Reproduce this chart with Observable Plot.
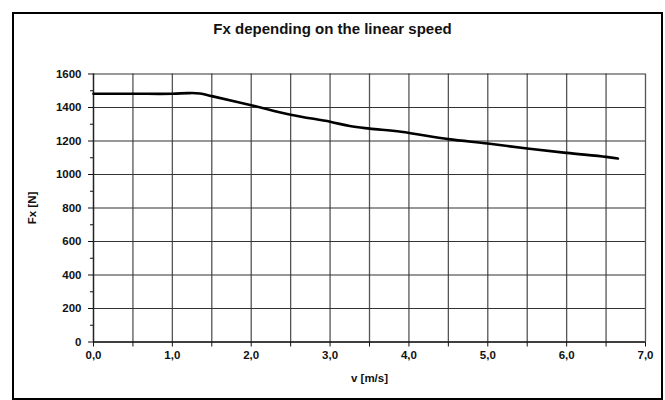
<!DOCTYPE html>
<html>
<head>
<meta charset="utf-8">
<script src="https://cdn.jsdelivr.net/npm/d3@7"></script>
<script src="https://cdn.jsdelivr.net/npm/@observablehq/plot@0.6"></script>
<style>
  html, body { margin: 0; padding: 0; background: #fff; }
  #wrap { position: relative; width: 665px; height: 400px; overflow: hidden; font-family: "Liberation Sans", Arial, sans-serif; }
  #frame { position: absolute; left: 12px; top: 12px; width: 647px; height: 384px; border: 2px solid #000; box-sizing: content-box; }
  #title { position: absolute; left: 0; width: 665px; top: 20px; text-align: center; font-weight: bold; font-size: 15px; color: #111; }
  #chart { position: absolute; left: 0; top: 0; }
</style>
</head>
<body>
<div id="wrap">
  <div id="frame"></div>
  <div id="title">Fx depending on the linear speed</div>
  <div id="chart"></div>
</div>
<script>
const speed = [0, 0.5, 1.0, 1.2, 1.35, 1.5, 2.0, 2.5, 3.0, 3.25, 3.5, 3.9, 4.5, 5.0, 5.5, 6.0, 6.5, 6.65];
const force = [1482, 1482, 1482, 1486, 1484, 1468, 1414, 1357, 1315, 1289, 1274, 1255, 1211, 1185, 1155, 1129, 1105, 1095];
const xTicks = [0, 0.5, 1, 1.5, 2, 2.5, 3, 3.5, 4, 4.5, 5, 5.5, 6, 6.5, 7];
const yTicks = [0, 200, 400, 600, 800, 1000, 1200, 1400, 1600];
const yMinor = [100, 300, 500, 700, 900, 1100, 1300, 1500];

const data = speed.map((v, i) => ({v, f: force[i]}));

const chart = Plot.plot({
  width: 665,
  height: 400,
  marginLeft: 93,
  marginRight: 20,
  marginTop: 73.5,
  marginBottom: 58.5,
  style: {fontFamily: "'Liberation Sans', Arial, sans-serif", fontWeight: "bold", fontSize: "11.5px", color: "#111", background: "transparent"},
  x: {domain: [0, 7]},
  y: {domain: [0, 1600]},
  marks: [
    Plot.gridX(xTicks, {stroke: "#555", strokeOpacity: 1, strokeWidth: 1.3}),
    Plot.gridY(yTicks, {stroke: "#333", strokeOpacity: 1, strokeWidth: 1.2}),
    Plot.ruleX([0], {stroke: "#222", strokeWidth: 1.3}),
    Plot.ruleY([0], {stroke: "#222", strokeWidth: 1.3}),
    Plot.axisX(xTicks, {
      tickSize: 5, tickPadding: 4,
      tickFormat: d => Number.isInteger(d) ? d.toFixed(1).replace(".", ",") : "",
      label: "v [m/s]", labelAnchor: "center", labelArrow: "none", labelOffset: 40
    }),
    Plot.axisY(yTicks, {
      tickSize: 5, tickPadding: 7,
      tickFormat: d => String(d),
      label: "Fx [N]", labelAnchor: "center", labelArrow: "none", labelOffset: 66
    }),
    Plot.axisY(yMinor, {tickSize: 3, tickFormat: () => "", label: null}),
    Plot.line(data, {x: "v", y: "f", stroke: "#000", strokeWidth: 2.6, curve: "catmull-rom"})
  ]
});
document.getElementById("chart").appendChild(chart);
</script>
</body>
</html>
